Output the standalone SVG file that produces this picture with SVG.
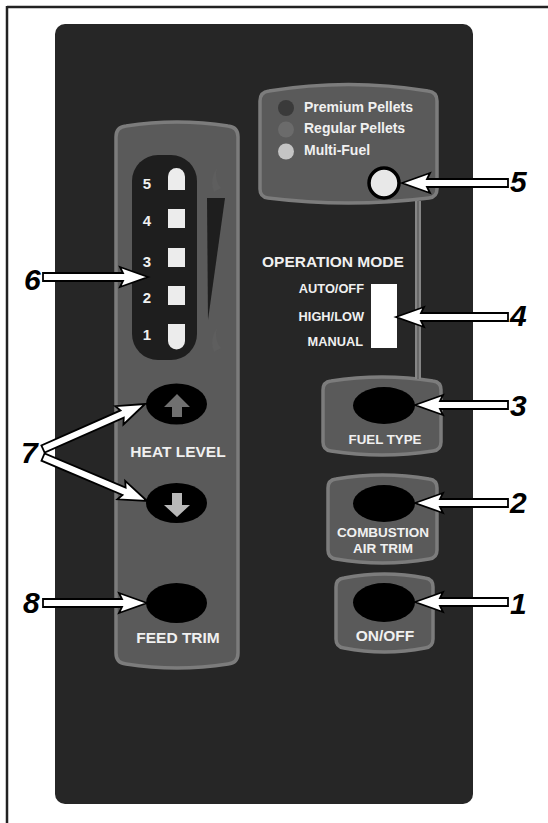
<svg xmlns="http://www.w3.org/2000/svg" width="548" height="823" viewBox="0 0 548 823">
<style>
.box{fill:#5a5a5a;stroke:#7c7c7c;stroke-width:3.5;stroke-linejoin:round}
.btn{fill:#000}
.lbl{font-family:"Liberation Sans",Arial,sans-serif;font-weight:bold;fill:#f0f0f0}
.num{font-family:"Liberation Sans",Arial,sans-serif;font-weight:bold;font-style:italic;font-size:30px;fill:#000}
.arr{fill:#fff;stroke:#000;stroke-width:1.8;stroke-linejoin:miter}
.led{fill:#ececec}
</style>
<rect width="548" height="823" fill="#fff"/>
<g id="frame">
<line x1="7" y1="7" x2="548" y2="7" stroke="#222" stroke-width="2.5"/>
<line x1="7" y1="6" x2="7" y2="823" stroke="#222" stroke-width="2.5"/>
</g>
<g id="panel">
<rect x="55" y="24" width="418" height="780" rx="10" fill="#262626"/>
</g>
<g id="heat-column">
<path class="box" d="M116,137 Q116,127 126,126 Q177,118 228,126 Q238,127 238,137 L238,653 Q238,663 228,664 Q177,672 126,664 Q116,663 116,653 Z"/>
<rect x="132" y="155" width="65" height="205" rx="26" fill="#1e1e1e"/>
<path d="M168,190 L168,176.5 A8.5,8.5 0 0 1 185,176.5 L185,190 Z" class="led"/>
<rect x="168" y="209" width="17" height="19" class="led"/>
<rect x="168" y="248" width="17" height="19" class="led"/>
<rect x="168" y="286" width="17" height="19" class="led"/>
<path d="M168,324 L185,324 L185,341 A8.5,8.5 0 0 1 168,341 Z" class="led"/>
<g class="lbl" font-size="15" text-anchor="middle">
<text x="147" y="189">5</text>
<text x="147" y="226">4</text>
<text x="147" y="267">3</text>
<text x="147" y="303">2</text>
<text x="147" y="340">1</text>
</g>
<polygon points="207,198 225,198 208,320" fill="#1e1e1e"/>
<path d="M214,192 Q209,180 217,168 Q214,180 221,188 Z M214,352 Q209,340 217,328 Q214,340 221,348 Z" fill="#5e5e5e"/>
</g>
<g id="heat-up">
<ellipse cx="176.5" cy="404" rx="30.5" ry="20.5" class="btn"/>
<polygon points="177,394 190,407 182,407 182,417 172,417 172,407 164,407" fill="#707070"/>
</g>
<text id="heat-level-label" class="lbl" font-size="15.5" x="178" y="457" text-anchor="middle">HEAT LEVEL</text>
<g id="heat-down">
<ellipse cx="176.5" cy="503" rx="30.5" ry="20" class="btn"/>
<polygon points="172,493 182,493 182,505 190,505 177,517 164,505 172,505" fill="#b8b8b8"/>
</g>
<g id="feed-trim">
<ellipse cx="176.5" cy="603" rx="30.5" ry="20" class="btn"/>
<text class="lbl" font-size="15.5" x="178" y="643" text-anchor="middle">FEED TRIM</text>
</g>
<g id="fuel-select">
<path class="box" d="M260,101 Q260,92 269,91 Q348.5,78 428,91 Q437,92 437,101 L437,189 Q437,197 429,198 Q348.5,208 268,198 Q260,197 260,189 Z"/>
<circle cx="286" cy="108" r="8" fill="#3a3a3a"/>
<circle cx="286" cy="129.5" r="8" fill="#6b6b6b"/>
<circle cx="286" cy="151.5" r="8" fill="#c4c4c4"/>
<g class="lbl" font-size="14">
<text x="304" y="112">Premium Pellets</text>
<text x="304" y="133">Regular Pellets</text>
<text x="304" y="155">Multi-Fuel</text>
</g>
<circle cx="384" cy="183" r="15" fill="#e8e8e8" stroke="#000" stroke-width="3.5"/>
</g>
<g id="operation-mode">
<text class="lbl" font-size="15.5" x="262" y="267">OPERATION MODE</text>
<g class="lbl" font-size="12.8" text-anchor="end">
<text x="364" y="293">AUTO/OFF</text>
<text x="364" y="321">HIGH/LOW</text>
<text x="363" y="346">MANUAL</text>
</g>
<rect x="371" y="284" width="26" height="64" fill="#fff"/>
</g>
<g id="fuel-type">
<path class="box" d="M323,390 Q323,382 331,381 Q382,373 433,381 Q441,382 441,390 L441,442 Q441,450 433,451 Q382,459 331,451 Q323,450 323,442 Z"/>
<ellipse cx="384" cy="405.5" rx="31" ry="18.5" class="btn"/>
<text class="lbl" font-size="13.3" x="385" y="444" text-anchor="middle">FUEL TYPE</text>
</g>
<g id="combustion-air-trim">
<path class="box" d="M328,488 Q328,480 336,479 Q382.5,471 429,479 Q437,480 437,488 L437,550 Q437,558 429,559 Q382.5,567 336,559 Q328,558 328,550 Z"/>
<ellipse cx="384" cy="503.5" rx="31" ry="18.5" class="btn"/>
<g class="lbl" font-size="13.5" text-anchor="middle">
<text x="383" y="537">COMBUSTION</text>
<text x="383" y="553">AIR TRIM</text>
</g>
</g>
<g id="on-off">
<path class="box" d="M336,587 Q336,579 344,578 Q384.5,570 425,578 Q433,579 433,587 L433,639 Q433,647 425,648 Q384.5,656 344,648 Q336,647 336,639 Z"/>
<ellipse cx="384" cy="602.5" rx="31" ry="19.5" class="btn"/>
<text class="lbl" font-size="15.5" x="385" y="641" text-anchor="middle">ON/OFF</text>
</g>
<g id="connectors">
<rect x="415" y="201" width="6" height="178" fill="#858585"/>
<line x1="418" y1="201" x2="418" y2="379" stroke="#606060" stroke-width="1.5"/>
<polygon class="arr" points="402,183 430,173 427,179 508,179 508,187 427,187 430,193"/>
<polygon class="arr" points="396,317 424,307 421,313 508,313 508,321 421,321 424,327"/>
<polygon class="arr" points="415,405 443,395 440,401 508,401 508,409 440,409 443,415"/>
<polygon class="arr" points="415,503 443,493 440,499 508,499 508,507 440,507 443,513"/>
<polygon class="arr" points="415,602 443,592 440,598 508,598 508,606 440,606 443,612"/>
<polygon class="arr" points="148,277 120,267 123,273 43,273 43,281 123,281 120,287"/>
<polygon class="arr" points="147,603 119,593 122,599 43,599 43,607 122,607 119,613"/>
<polygon class="arr" transform="translate(43,449) rotate(-23.8)" points="111.5,0 83.5,-10 86.5,-4 0,-4 0,4 86.5,4 83.5,10"/>
<polygon class="arr" transform="translate(43,457) rotate(22.9)" points="113,0 85,-10 88,-4 0,-4 0,4 88,4 85,10"/>
</g>
<g id="callouts">
<text class="num" x="510" y="192">5</text>
<text class="num" x="510" y="326">4</text>
<text class="num" x="510" y="416">3</text>
<text class="num" x="510" y="513">2</text>
<text class="num" x="510" y="614">1</text>
<text class="num" x="24" y="290">6</text>
<text class="num" x="21" y="463">7</text>
<text class="num" x="23" y="613">8</text>
</g>
</svg>
